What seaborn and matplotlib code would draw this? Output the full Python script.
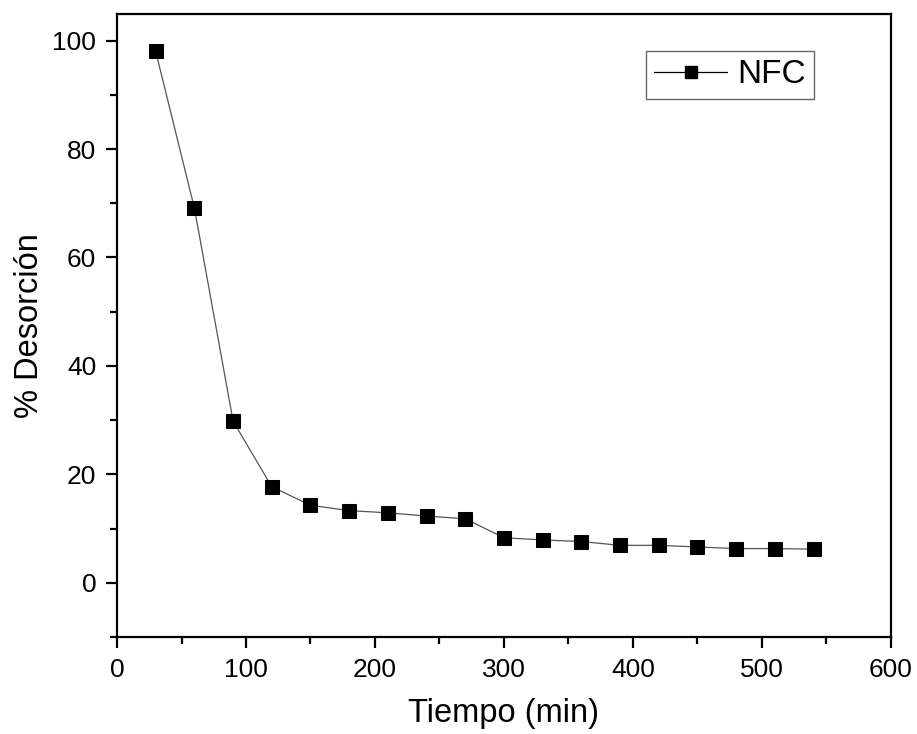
import matplotlib
matplotlib.use("Agg")
import matplotlib.pyplot as plt
import seaborn as sns
import pandas as pd
from matplotlib.ticker import MultipleLocator
from matplotlib.lines import Line2D

tiempo = [30, 60, 90, 120, 150, 180, 210, 240, 270, 300, 330, 360, 390, 420, 450, 480, 510, 540]
desorcion = [98.0, 69.1, 29.8, 17.7, 14.3, 13.3, 12.9, 12.3, 11.8, 8.3, 7.9, 7.6, 6.9, 6.9, 6.6, 6.3, 6.3, 6.2]
serie = "NFC"

df = pd.DataFrame({"Tiempo": tiempo, "Desorcion": desorcion, "Serie": serie})

sns.set_theme(style="ticks")
plt.rcParams['font.family'] = ['Liberation Sans', 'DejaVu Sans']
plt.rcParams['text.color'] = 'black'
plt.rcParams['axes.labelcolor'] = 'black'

fig = plt.figure(figsize=(9.17, 7.34), dpi=100)
ax = fig.add_axes([0.1276, 0.1322, 0.9716 - 0.1276, 0.9816 - 0.1322])

sns.lineplot(data=df, x="Tiempo", y="Desorcion", hue="Serie", palette=["black"],
             marker="s", markersize=10, markeredgecolor="black",
             linewidth=0.9, ax=ax, legend=False)
for ln in ax.lines:
    ln.set_color("#555555")
    ln.set_markerfacecolor("black")
    ln.set_markeredgecolor("black")

ax.set_xlim(0, 600)
ax.set_ylim(-10, 105)
ax.xaxis.set_major_locator(MultipleLocator(100))
ax.xaxis.set_minor_locator(MultipleLocator(50))
ax.yaxis.set_major_locator(MultipleLocator(20))
ax.yaxis.set_minor_locator(MultipleLocator(10))

ax.tick_params(which="major", direction="out", length=8, width=1.6, labelsize=19,
               colors="black", labelcolor="black", pad=7)
ax.tick_params(which="minor", direction="out", length=5, width=1.6, colors="black")
ax.tick_params(top=False, right=False, which="both")
for s in ax.spines.values():
    s.set_linewidth(1.6)
    s.set_color("black")

ax.set_xlabel("Tiempo (min)", fontsize=23.5, labelpad=12, color="black")
ax.set_ylabel("% Desorción", fontsize=23.5, labelpad=5, color="black")

h = Line2D([], [], color="black", linewidth=0.9, marker="s", markersize=9,
           markerfacecolor="black", markeredgecolor="black")
leg = ax.legend([h], [serie], loc="upper right", bbox_to_anchor=(0.901, 0.94),
                fontsize=24, frameon=True, fancybox=False, framealpha=1,
                edgecolor="#666666", handlelength=2.2, handletextpad=0.3,
                borderpad=0.25, borderaxespad=0)
leg.get_frame().set_linewidth(1.0)

fig.savefig("out.png", dpi=100, facecolor="white")
